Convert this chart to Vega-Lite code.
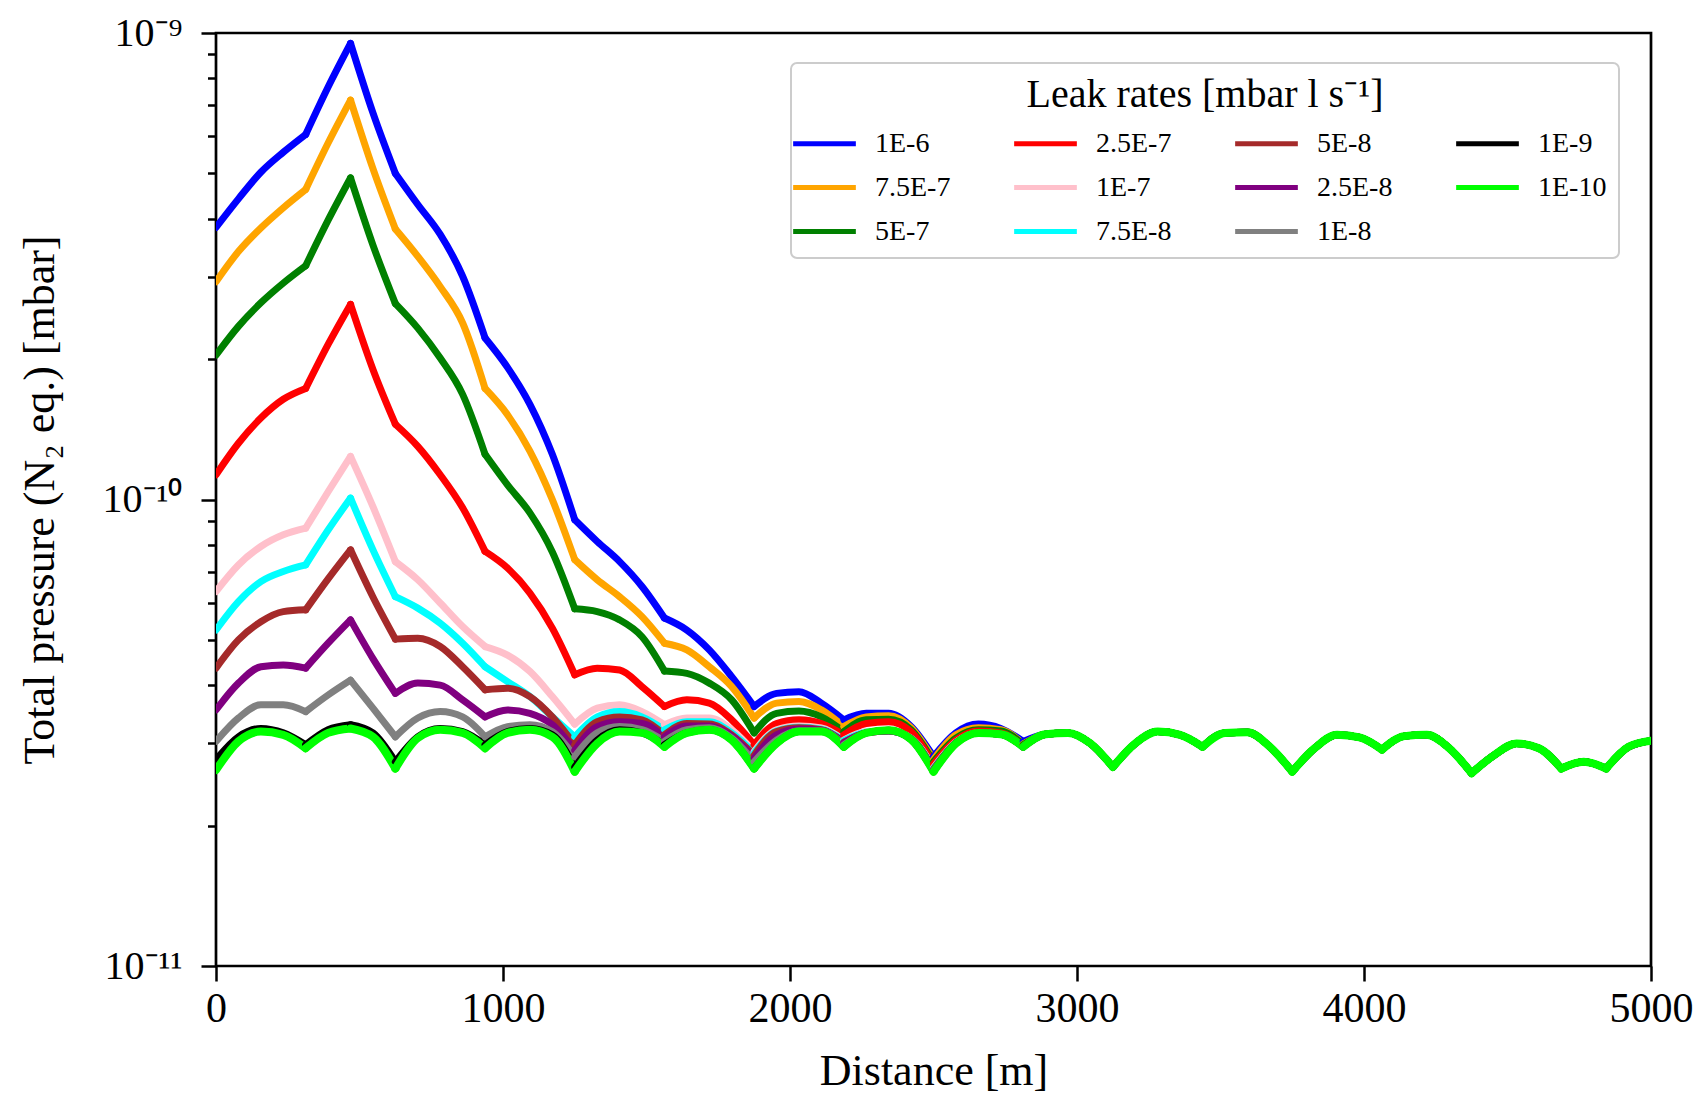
{
  "$schema": "https://vega.github.io/schema/vega-lite/v6.json",
  "width": 1435,
  "height": 933,
  "autosize": {"type": "none"},
  "padding": {"left": 216, "top": 33, "right": 50, "bottom": 129},
  "background": "white",
  "config": {
    "view": {"stroke": "black", "strokeWidth": 2.7},
    "font": "Liberation Serif",
    "axis": {
      "domain": false,
      "grid": false,
      "labelFont": "Liberation Serif",
      "titleFont": "Liberation Serif",
      "labelColor": "black",
      "titleColor": "black",
      "tickColor": "black",
      "tickWidth": 2.5,
      "titleFontWeight": "normal",
      "labelOverlap": false
    },
    "legend": {"strokeWidth": 2}
  },
  "data": {
    "values": [
      {"g":0,"x":0,"s1":3.83e-10,"s2":2.93e-10,"s3":2.04e-10,"s4":1.13e-10,"s5":6.35e-11,"s6":5.25e-11,"s7":4.35e-11,"s8":3.54e-11,"s9":3.03e-11,"s10":2.77e-11,"s11":2.63e-11},
      {"g":0,"x":78.125,"s1":4.41e-10,"s2":3.40e-10,"s3":2.35e-10,"s4":1.32e-10,"s5":7.24e-11,"s6":6.04e-11,"s7":5.00e-11,"s8":4.04e-11,"s9":3.40e-11,"s10":3.10e-11,"s11":3.03e-11},
      {"g":0,"x":156.25,"s1":5.03e-10,"s2":3.82e-10,"s3":2.64e-10,"s4":1.495e-10,"s5":7.93e-11,"s6":6.67e-11,"s7":5.47e-11,"s8":4.38e-11,"s9":3.63e-11,"s10":3.23e-11,"s11":3.18e-11},
      {"g":0,"x":234.375,"s1":5.55e-10,"s2":4.22e-10,"s3":2.91e-10,"s4":1.64e-10,"s5":8.40e-11,"s6":7.01e-11,"s7":5.75e-11,"s8":4.42e-11,"s9":3.63e-11,"s10":3.16e-11,"s11":3.13e-11},
      {"g":0,"x":312.5,"s1":6.06e-10,"s2":4.62e-10,"s3":3.17e-10,"s4":1.73e-10,"s5":8.68e-11,"s6":7.24e-11,"s7":5.80e-11,"s8":4.35e-11,"s9":3.51e-11,"s10":2.98e-11,"s11":2.93e-11},
      {"g":1,"x":312.5,"s1":6.06e-10,"s2":4.62e-10,"s3":3.17e-10,"s4":1.73e-10,"s5":8.68e-11,"s6":7.24e-11,"s7":5.80e-11,"s8":4.35e-11,"s9":3.51e-11,"s10":2.98e-11,"s11":2.93e-11},
      {"g":1,"x":390.625,"s1":7.66e-10,"s2":5.81e-10,"s3":3.97e-10,"s4":2.15e-10,"s5":1.039e-10,"s6":8.60e-11,"s7":6.76e-11,"s8":4.92e-11,"s9":3.81e-11,"s10":3.21e-11,"s11":3.16e-11},
      {"g":1,"x":468.75,"s1":9.50e-10,"s2":7.18e-10,"s3":4.89e-10,"s4":2.62e-10,"s5":1.237e-10,"s6":1.007e-10,"s7":7.80e-11,"s8":5.52e-11,"s9":4.10e-11,"s10":3.29e-11,"s11":3.23e-11},
      {"g":2,"x":468.75,"s1":9.50e-10,"s2":7.18e-10,"s3":4.89e-10,"s4":2.62e-10,"s5":1.237e-10,"s6":1.007e-10,"s7":7.80e-11,"s8":5.52e-11,"s9":4.10e-11,"s10":3.29e-11,"s11":3.23e-11},
      {"g":2,"x":546.875,"s1":6.74e-10,"s2":5.12e-10,"s3":3.51e-10,"s4":1.90e-10,"s5":9.65e-11,"s6":7.80e-11,"s7":6.18e-11,"s8":4.56e-11,"s9":3.57e-11,"s10":3.16e-11,"s11":3.10e-11},
      {"g":2,"x":625,"s1":5.00e-10,"s2":3.80e-10,"s3":2.63e-10,"s4":1.45e-10,"s5":7.36e-11,"s6":6.19e-11,"s7":5.02e-11,"s8":3.84e-11,"s9":3.10e-11,"s10":2.74e-11,"s11":2.65e-11},
      {"g":3,"x":625,"s1":5.00e-10,"s2":3.80e-10,"s3":2.63e-10,"s4":1.45e-10,"s5":7.36e-11,"s6":6.19e-11,"s7":5.02e-11,"s8":3.84e-11,"s9":3.10e-11,"s10":2.74e-11,"s11":2.65e-11},
      {"g":3,"x":703.125,"s1":4.29e-10,"s2":3.32e-10,"s3":2.33e-10,"s4":1.30e-10,"s5":6.73e-11,"s6":5.85e-11,"s7":5.04e-11,"s8":4.04e-11,"s9":3.40e-11,"s10":3.10e-11,"s11":3.08e-11},
      {"g":3,"x":781.25,"s1":3.70e-10,"s2":2.86e-10,"s3":2.01e-10,"s4":1.13e-10,"s5":6.00e-11,"s6":5.43e-11,"s7":4.84e-11,"s8":4.00e-11,"s9":3.51e-11,"s10":3.23e-11,"s11":3.21e-11},
      {"g":3,"x":859.375,"s1":3.01e-10,"s2":2.39e-10,"s3":1.68e-10,"s4":9.60e-11,"s5":5.34e-11,"s6":4.92e-11,"s7":4.38e-11,"s8":3.72e-11,"s9":3.42e-11,"s10":3.18e-11,"s11":3.16e-11},
      {"g":3,"x":937.5,"s1":2.22e-10,"s2":1.73e-10,"s3":1.25e-10,"s4":7.74e-11,"s5":4.84e-11,"s6":4.38e-11,"s7":3.91e-11,"s8":3.42e-11,"s9":3.10e-11,"s10":2.98e-11,"s11":2.93e-11},
      {"g":4,"x":937.5,"s1":2.22e-10,"s2":1.73e-10,"s3":1.25e-10,"s4":7.74e-11,"s5":4.84e-11,"s6":4.38e-11,"s7":3.91e-11,"s8":3.42e-11,"s9":3.10e-11,"s10":2.98e-11,"s11":2.93e-11},
      {"g":4,"x":1015.625,"s1":1.92e-10,"s2":1.52e-10,"s3":1.075e-10,"s4":7.13e-11,"s5":4.64e-11,"s6":4.07e-11,"s7":3.94e-11,"s8":3.54e-11,"s9":3.26e-11,"s10":3.18e-11,"s11":3.16e-11},
      {"g":4,"x":1093.75,"s1":1.60e-10,"s2":1.27e-10,"s3":9.36e-11,"s4":6.30e-11,"s5":4.28e-11,"s6":3.78e-11,"s7":3.78e-11,"s8":3.48e-11,"s9":3.29e-11,"s10":3.23e-11,"s11":3.21e-11},
      {"g":4,"x":1171.875,"s1":1.25e-10,"s2":9.99e-11,"s3":7.72e-11,"s4":5.30e-11,"s5":3.78e-11,"s6":3.42e-11,"s7":3.42e-11,"s8":3.29e-11,"s9":3.18e-11,"s10":3.13e-11,"s11":3.10e-11},
      {"g":4,"x":1250,"s1":9.05e-11,"s2":7.43e-11,"s3":5.83e-11,"s4":4.21e-11,"s5":3.30e-11,"s6":3.10e-11,"s7":2.98e-11,"s8":2.90e-11,"s9":2.81e-11,"s10":2.67e-11,"s11":2.61e-11},
      {"g":5,"x":1250,"s1":9.05e-11,"s2":7.43e-11,"s3":5.83e-11,"s4":4.21e-11,"s5":3.30e-11,"s6":3.10e-11,"s7":2.98e-11,"s8":2.90e-11,"s9":2.81e-11,"s10":2.67e-11,"s11":2.61e-11},
      {"g":5,"x":1328.125,"s1":8.13e-11,"s2":6.73e-11,"s3":5.75e-11,"s4":4.35e-11,"s5":3.57e-11,"s6":3.42e-11,"s7":3.34e-11,"s8":3.26e-11,"s9":3.16e-11,"s10":3.05e-11,"s11":3.00e-11},
      {"g":5,"x":1406.25,"s1":7.36e-11,"s2":6.19e-11,"s3":5.52e-11,"s4":4.31e-11,"s5":3.63e-11,"s6":3.51e-11,"s7":3.42e-11,"s8":3.34e-11,"s9":3.26e-11,"s10":3.21e-11,"s11":3.18e-11},
      {"g":5,"x":1484.375,"s1":6.51e-11,"s2":5.61e-11,"s3":5.08e-11,"s4":3.97e-11,"s5":3.51e-11,"s6":3.42e-11,"s7":3.37e-11,"s8":3.31e-11,"s9":3.21e-11,"s10":3.16e-11,"s11":3.16e-11},
      {"g":5,"x":1562.5,"s1":5.57e-11,"s2":4.92e-11,"s3":4.29e-11,"s4":3.60e-11,"s5":3.29e-11,"s6":3.21e-11,"s7":3.13e-11,"s8":3.10e-11,"s9":3.03e-11,"s10":2.98e-11,"s11":2.95e-11},
      {"g":6,"x":1562.5,"s1":5.57e-11,"s2":4.92e-11,"s3":4.29e-11,"s4":3.60e-11,"s5":3.29e-11,"s6":3.21e-11,"s7":3.13e-11,"s8":3.10e-11,"s9":3.03e-11,"s10":2.98e-11,"s11":2.95e-11},
      {"g":6,"x":1640.625,"s1":5.25e-11,"s2":4.76e-11,"s3":4.24e-11,"s4":3.72e-11,"s5":3.40e-11,"s6":3.34e-11,"s7":3.31e-11,"s8":3.27e-11,"s9":3.21e-11,"s10":3.16e-11,"s11":3.16e-11},
      {"g":6,"x":1718.75,"s1":4.76e-11,"s2":4.38e-11,"s3":4.04e-11,"s4":3.66e-11,"s5":3.40e-11,"s6":3.34e-11,"s7":3.30e-11,"s8":3.27e-11,"s9":3.24e-11,"s10":3.21e-11,"s11":3.21e-11},
      {"g":6,"x":1796.875,"s1":4.17e-11,"s2":3.97e-11,"s3":3.72e-11,"s4":3.37e-11,"s5":3.21e-11,"s6":3.16e-11,"s7":3.13e-11,"s8":3.11e-11,"s9":3.08e-11,"s10":3.05e-11,"s11":3.05e-11},
      {"g":6,"x":1875,"s1":3.60e-11,"s2":3.40e-11,"s3":3.16e-11,"s4":2.98e-11,"s5":2.88e-11,"s6":2.86e-11,"s7":2.83e-11,"s8":2.79e-11,"s9":2.74e-11,"s10":2.65e-11,"s11":2.65e-11},
      {"g":7,"x":1875,"s1":3.60e-11,"s2":3.40e-11,"s3":3.16e-11,"s4":2.98e-11,"s5":2.88e-11,"s6":2.86e-11,"s7":2.83e-11,"s8":2.79e-11,"s9":2.74e-11,"s10":2.65e-11,"s11":2.65e-11},
      {"g":7,"x":1953.125,"s1":3.84e-11,"s2":3.66e-11,"s3":3.48e-11,"s4":3.31e-11,"s5":3.21e-11,"s6":3.19e-11,"s7":3.18e-11,"s8":3.13e-11,"s9":3.05e-11,"s10":3.00e-11,"s11":3.00e-11},
      {"g":7,"x":2031.25,"s1":3.87e-11,"s2":3.69e-11,"s3":3.52e-11,"s4":3.37e-11,"s5":3.27e-11,"s6":3.25e-11,"s7":3.24e-11,"s8":3.22e-11,"s9":3.19e-11,"s10":3.18e-11,"s11":3.18e-11},
      {"g":7,"x":2109.375,"s1":3.66e-11,"s2":3.54e-11,"s3":3.42e-11,"s4":3.31e-11,"s5":3.24e-11,"s6":3.22e-11,"s7":3.21e-11,"s8":3.20e-11,"s9":3.19e-11,"s10":3.18e-11,"s11":3.18e-11},
      {"g":7,"x":2187.5,"s1":3.37e-11,"s2":3.26e-11,"s3":3.18e-11,"s4":3.13e-11,"s5":3.05e-11,"s6":3.04e-11,"s7":3.02e-11,"s8":3.01e-11,"s9":2.98e-11,"s10":2.95e-11,"s11":2.95e-11},
      {"g":8,"x":2187.5,"s1":3.37e-11,"s2":3.26e-11,"s3":3.18e-11,"s4":3.13e-11,"s5":3.05e-11,"s6":3.04e-11,"s7":3.02e-11,"s8":3.01e-11,"s9":2.98e-11,"s10":2.95e-11,"s11":2.95e-11},
      {"g":8,"x":2265.625,"s1":3.48e-11,"s2":3.42e-11,"s3":3.37e-11,"s4":3.31e-11,"s5":3.18e-11,"s6":3.17e-11,"s7":3.16e-11,"s8":3.16e-11,"s9":3.16e-11,"s10":3.16e-11,"s11":3.16e-11},
      {"g":8,"x":2343.75,"s1":3.48e-11,"s2":3.44e-11,"s3":3.38e-11,"s4":3.34e-11,"s5":3.19e-11,"s6":3.19e-11,"s7":3.19e-11,"s8":3.19e-11,"s9":3.20e-11,"s10":3.20e-11,"s11":3.20e-11},
      {"g":8,"x":2421.875,"s1":3.26e-11,"s2":3.24e-11,"s3":3.21e-11,"s4":3.18e-11,"s5":3.08e-11,"s6":3.07e-11,"s7":3.07e-11,"s8":3.07e-11,"s9":3.06e-11,"s10":3.06e-11,"s11":3.06e-11},
      {"g":8,"x":2500,"s1":2.81e-11,"s2":2.77e-11,"s3":2.74e-11,"s4":2.71e-11,"s5":2.66e-11,"s6":2.65e-11,"s7":2.64e-11,"s8":2.63e-11,"s9":2.62e-11,"s10":2.61e-11,"s11":2.61e-11},
      {"g":9,"x":2500,"s1":2.81e-11,"s2":2.77e-11,"s3":2.74e-11,"s4":2.71e-11,"s5":2.66e-11,"s6":2.65e-11,"s7":2.64e-11,"s8":2.63e-11,"s9":2.62e-11,"s10":2.61e-11,"s11":2.61e-11},
      {"g":9,"x":2578.125,"s1":3.16e-11,"s2":3.13e-11,"s3":3.08e-11,"s4":3.05e-11,"s5":3.02e-11,"s6":3.01e-11,"s7":3.01e-11,"s8":3.01e-11,"s9":3.00e-11,"s10":3.00e-11,"s11":3.00e-11},
      {"g":9,"x":2656.25,"s1":3.30e-11,"s2":3.24e-11,"s3":3.21e-11,"s4":3.19e-11,"s5":3.16e-11,"s6":3.16e-11,"s7":3.16e-11,"s8":3.16e-11,"s9":3.16e-11,"s10":3.16e-11,"s11":3.16e-11},
      {"g":9,"x":2734.375,"s1":3.23e-11,"s2":3.21e-11,"s3":3.19e-11,"s4":3.16e-11,"s5":3.14e-11,"s6":3.14e-11,"s7":3.14e-11,"s8":3.14e-11,"s9":3.14e-11,"s10":3.14e-11,"s11":3.14e-11},
      {"g":9,"x":2812.5,"s1":3.03e-11,"s2":2.99e-11,"s3":2.98e-11,"s4":2.96e-11,"s5":2.95e-11,"s6":2.95e-11,"s7":2.95e-11,"s8":2.95e-11,"s9":2.95e-11,"s10":2.95e-11,"s11":2.95e-11},
      {"g":10,"x":2812.5,"s1":3.03e-11,"s2":2.99e-11,"s3":2.98e-11,"s4":2.96e-11,"s5":2.95e-11,"s6":2.95e-11,"s7":2.95e-11,"s8":2.95e-11,"s9":2.95e-11,"s10":2.95e-11,"s11":2.95e-11},
      {"g":10,"x":2890.625,"s1":3.14e-11,"s2":3.14e-11,"s3":3.14e-11,"s4":3.14e-11,"s5":3.14e-11,"s6":3.14e-11,"s7":3.14e-11,"s8":3.14e-11,"s9":3.14e-11,"s10":3.14e-11,"s11":3.14e-11},
      {"g":10,"x":2968.75,"s1":3.16e-11,"s2":3.16e-11,"s3":3.16e-11,"s4":3.16e-11,"s5":3.16e-11,"s6":3.16e-11,"s7":3.16e-11,"s8":3.16e-11,"s9":3.16e-11,"s10":3.16e-11,"s11":3.16e-11},
      {"g":10,"x":3046.875,"s1":3.00e-11,"s2":3.00e-11,"s3":3.00e-11,"s4":3.00e-11,"s5":3.00e-11,"s6":3.00e-11,"s7":3.00e-11,"s8":3.00e-11,"s9":3.00e-11,"s10":3.00e-11,"s11":3.00e-11},
      {"g":10,"x":3125,"s1":2.67e-11,"s2":2.67e-11,"s3":2.67e-11,"s4":2.67e-11,"s5":2.67e-11,"s6":2.67e-11,"s7":2.67e-11,"s8":2.67e-11,"s9":2.67e-11,"s10":2.67e-11,"s11":2.67e-11},
      {"g":11,"x":3125,"s1":2.67e-11,"s2":2.67e-11,"s3":2.67e-11,"s4":2.67e-11,"s5":2.67e-11,"s6":2.67e-11,"s7":2.67e-11,"s8":2.67e-11,"s9":2.67e-11,"s10":2.67e-11,"s11":2.67e-11},
      {"g":11,"x":3203.125,"s1":3.00e-11,"s2":3.00e-11,"s3":3.00e-11,"s4":3.00e-11,"s5":3.00e-11,"s6":3.00e-11,"s7":3.00e-11,"s8":3.00e-11,"s9":3.00e-11,"s10":3.00e-11,"s11":3.00e-11},
      {"g":11,"x":3281.25,"s1":3.18e-11,"s2":3.18e-11,"s3":3.18e-11,"s4":3.18e-11,"s5":3.18e-11,"s6":3.18e-11,"s7":3.18e-11,"s8":3.18e-11,"s9":3.18e-11,"s10":3.18e-11,"s11":3.18e-11},
      {"g":11,"x":3359.375,"s1":3.13e-11,"s2":3.13e-11,"s3":3.13e-11,"s4":3.13e-11,"s5":3.13e-11,"s6":3.13e-11,"s7":3.13e-11,"s8":3.13e-11,"s9":3.13e-11,"s10":3.13e-11,"s11":3.13e-11},
      {"g":11,"x":3437.5,"s1":2.95e-11,"s2":2.95e-11,"s3":2.95e-11,"s4":2.95e-11,"s5":2.95e-11,"s6":2.95e-11,"s7":2.95e-11,"s8":2.95e-11,"s9":2.95e-11,"s10":2.95e-11,"s11":2.95e-11},
      {"g":12,"x":3437.5,"s1":2.95e-11,"s2":2.95e-11,"s3":2.95e-11,"s4":2.95e-11,"s5":2.95e-11,"s6":2.95e-11,"s7":2.95e-11,"s8":2.95e-11,"s9":2.95e-11,"s10":2.95e-11,"s11":2.95e-11},
      {"g":12,"x":3515.625,"s1":3.16e-11,"s2":3.16e-11,"s3":3.16e-11,"s4":3.16e-11,"s5":3.16e-11,"s6":3.16e-11,"s7":3.16e-11,"s8":3.16e-11,"s9":3.16e-11,"s10":3.16e-11,"s11":3.16e-11},
      {"g":12,"x":3593.75,"s1":3.17e-11,"s2":3.17e-11,"s3":3.17e-11,"s4":3.17e-11,"s5":3.17e-11,"s6":3.17e-11,"s7":3.17e-11,"s8":3.17e-11,"s9":3.17e-11,"s10":3.17e-11,"s11":3.17e-11},
      {"g":12,"x":3671.875,"s1":2.95e-11,"s2":2.95e-11,"s3":2.95e-11,"s4":2.95e-11,"s5":2.95e-11,"s6":2.95e-11,"s7":2.95e-11,"s8":2.95e-11,"s9":2.95e-11,"s10":2.95e-11,"s11":2.95e-11},
      {"g":12,"x":3750,"s1":2.61e-11,"s2":2.61e-11,"s3":2.61e-11,"s4":2.61e-11,"s5":2.61e-11,"s6":2.61e-11,"s7":2.61e-11,"s8":2.61e-11,"s9":2.61e-11,"s10":2.61e-11,"s11":2.61e-11},
      {"g":13,"x":3750,"s1":2.61e-11,"s2":2.61e-11,"s3":2.61e-11,"s4":2.61e-11,"s5":2.61e-11,"s6":2.61e-11,"s7":2.61e-11,"s8":2.61e-11,"s9":2.61e-11,"s10":2.61e-11,"s11":2.61e-11},
      {"g":13,"x":3828.125,"s1":2.93e-11,"s2":2.93e-11,"s3":2.93e-11,"s4":2.93e-11,"s5":2.93e-11,"s6":2.93e-11,"s7":2.93e-11,"s8":2.93e-11,"s9":2.93e-11,"s10":2.93e-11,"s11":2.93e-11},
      {"g":13,"x":3906.25,"s1":3.13e-11,"s2":3.13e-11,"s3":3.13e-11,"s4":3.13e-11,"s5":3.13e-11,"s6":3.13e-11,"s7":3.13e-11,"s8":3.13e-11,"s9":3.13e-11,"s10":3.13e-11,"s11":3.13e-11},
      {"g":13,"x":3984.375,"s1":3.09e-11,"s2":3.09e-11,"s3":3.09e-11,"s4":3.09e-11,"s5":3.09e-11,"s6":3.09e-11,"s7":3.09e-11,"s8":3.09e-11,"s9":3.09e-11,"s10":3.09e-11,"s11":3.09e-11},
      {"g":13,"x":4062.5,"s1":2.91e-11,"s2":2.91e-11,"s3":2.91e-11,"s4":2.91e-11,"s5":2.91e-11,"s6":2.91e-11,"s7":2.91e-11,"s8":2.91e-11,"s9":2.91e-11,"s10":2.91e-11,"s11":2.91e-11},
      {"g":14,"x":4062.5,"s1":2.91e-11,"s2":2.91e-11,"s3":2.91e-11,"s4":2.91e-11,"s5":2.91e-11,"s6":2.91e-11,"s7":2.91e-11,"s8":2.91e-11,"s9":2.91e-11,"s10":2.91e-11,"s11":2.91e-11},
      {"g":14,"x":4140.625,"s1":3.11e-11,"s2":3.11e-11,"s3":3.11e-11,"s4":3.11e-11,"s5":3.11e-11,"s6":3.11e-11,"s7":3.11e-11,"s8":3.11e-11,"s9":3.11e-11,"s10":3.11e-11,"s11":3.11e-11},
      {"g":14,"x":4218.75,"s1":3.13e-11,"s2":3.13e-11,"s3":3.13e-11,"s4":3.13e-11,"s5":3.13e-11,"s6":3.13e-11,"s7":3.13e-11,"s8":3.13e-11,"s9":3.13e-11,"s10":3.13e-11,"s11":3.13e-11},
      {"g":14,"x":4296.875,"s1":2.93e-11,"s2":2.93e-11,"s3":2.93e-11,"s4":2.93e-11,"s5":2.93e-11,"s6":2.93e-11,"s7":2.93e-11,"s8":2.93e-11,"s9":2.93e-11,"s10":2.93e-11,"s11":2.93e-11},
      {"g":14,"x":4375,"s1":2.59e-11,"s2":2.59e-11,"s3":2.59e-11,"s4":2.59e-11,"s5":2.59e-11,"s6":2.59e-11,"s7":2.59e-11,"s8":2.59e-11,"s9":2.59e-11,"s10":2.59e-11,"s11":2.59e-11},
      {"g":15,"x":4375,"s1":2.59e-11,"s2":2.59e-11,"s3":2.59e-11,"s4":2.59e-11,"s5":2.59e-11,"s6":2.59e-11,"s7":2.59e-11,"s8":2.59e-11,"s9":2.59e-11,"s10":2.59e-11,"s11":2.59e-11},
      {"g":15,"x":4453.125,"s1":2.83e-11,"s2":2.83e-11,"s3":2.83e-11,"s4":2.83e-11,"s5":2.83e-11,"s6":2.83e-11,"s7":2.83e-11,"s8":2.83e-11,"s9":2.83e-11,"s10":2.83e-11,"s11":2.83e-11},
      {"g":15,"x":4531.25,"s1":3.00e-11,"s2":3.00e-11,"s3":3.00e-11,"s4":3.00e-11,"s5":3.00e-11,"s6":3.00e-11,"s7":3.00e-11,"s8":3.00e-11,"s9":3.00e-11,"s10":3.00e-11,"s11":3.00e-11},
      {"g":15,"x":4609.375,"s1":2.93e-11,"s2":2.93e-11,"s3":2.93e-11,"s4":2.93e-11,"s5":2.93e-11,"s6":2.93e-11,"s7":2.93e-11,"s8":2.93e-11,"s9":2.93e-11,"s10":2.93e-11,"s11":2.93e-11},
      {"g":15,"x":4687.5,"s1":2.65e-11,"s2":2.65e-11,"s3":2.65e-11,"s4":2.65e-11,"s5":2.65e-11,"s6":2.65e-11,"s7":2.65e-11,"s8":2.65e-11,"s9":2.65e-11,"s10":2.65e-11,"s11":2.65e-11},
      {"g":16,"x":4687.5,"s1":2.65e-11,"s2":2.65e-11,"s3":2.65e-11,"s4":2.65e-11,"s5":2.65e-11,"s6":2.65e-11,"s7":2.65e-11,"s8":2.65e-11,"s9":2.65e-11,"s10":2.65e-11,"s11":2.65e-11},
      {"g":16,"x":4765.625,"s1":2.74e-11,"s2":2.74e-11,"s3":2.74e-11,"s4":2.74e-11,"s5":2.74e-11,"s6":2.74e-11,"s7":2.74e-11,"s8":2.74e-11,"s9":2.74e-11,"s10":2.74e-11,"s11":2.74e-11},
      {"g":16,"x":4843.75,"s1":2.65e-11,"s2":2.65e-11,"s3":2.65e-11,"s4":2.65e-11,"s5":2.65e-11,"s6":2.65e-11,"s7":2.65e-11,"s8":2.65e-11,"s9":2.65e-11,"s10":2.65e-11,"s11":2.65e-11},
      {"g":17,"x":4843.75,"s1":2.65e-11,"s2":2.65e-11,"s3":2.65e-11,"s4":2.65e-11,"s5":2.65e-11,"s6":2.65e-11,"s7":2.65e-11,"s8":2.65e-11,"s9":2.65e-11,"s10":2.65e-11,"s11":2.65e-11},
      {"g":17,"x":4921.875,"s1":2.95e-11,"s2":2.95e-11,"s3":2.95e-11,"s4":2.95e-11,"s5":2.95e-11,"s6":2.95e-11,"s7":2.95e-11,"s8":2.95e-11,"s9":2.95e-11,"s10":2.95e-11,"s11":2.95e-11},
      {"g":17,"x":5000,"s1":3.04e-11,"s2":3.04e-11,"s3":3.04e-11,"s4":3.04e-11,"s5":3.04e-11,"s6":3.04e-11,"s7":3.04e-11,"s8":3.04e-11,"s9":3.04e-11,"s10":3.04e-11,"s11":3.04e-11}
    ]
  },
  "transform": [
    {"fold": ["s1","s2","s3","s4","s5","s6","s7","s8","s9","s10","s11"], "as": ["key","p"]}
  ],
  "mark": {"type": "line", "interpolate": "monotone", "strokeJoin": "round", "strokeCap": "round", "clip": true},
  "encoding": {
    "x": {
      "field": "x",
      "type": "quantitative",
      "scale": {"domain": [0, 5000], "nice": false, "zero": false},
      "axis": {
        "values": [0, 1000, 2000, 3000, 4000, 5000],
        "format": "d",
        "title": "Distance [m]",
        "labelFontSize": 42,
        "labelFlush": false,
        "tickSize": 15,
        "labelPadding": 7,
        "titleFontSize": 44,
        "titleX": 717.5,
        "titleY": 118,
        "titleBaseline": "alphabetic",
        "titleAlign": "center"
      }
    },
    "y": {
      "field": "p",
      "type": "quantitative",
      "scale": {"type": "log", "domain": [1e-11, 1e-9], "nice": false},
      "axis": {
        "values": [1e-11,2e-11,3e-11,4e-11,5e-11,6e-11,7e-11,8e-11,9e-11,1e-10,2e-10,3e-10,4e-10,5e-10,6e-10,7e-10,8e-10,9e-10,1e-9],
        "labelExpr": "datum.value == 1e-9 ? '10⁻⁹' : datum.value == 1e-10 ? '10⁻¹⁰' : datum.value == 1e-11 ? '10⁻¹¹' : ''",
        "tickSize": {"condition": {"test": "datum.value == 1e-9 || datum.value == 1e-10 || datum.value == 1e-11", "value": 15}, "value": 8.5},
        "labelFontSize": 40,
        "labelPadding": 19,
        "title": "Total pressure (N₂ eq.) [mbar]",
        "titleFontSize": 44,
        "titleX": -163,
        "titleY": 466.5,
        "titleBaseline": "alphabetic",
        "titleAlign": "center",
        "titleAngle": -90
      }
    },
    "detail": {"field": "g", "type": "nominal"},
    "color": {
      "field": "key",
      "type": "nominal",
      "scale": {
        "domain": ["s1","s2","s3","s4","s5","s6","s7","s8","s9","s10","s11"],
        "range": ["#0000ff","#ffa500","#008000","#ff0000","#ffc0cb","#00ffff","#a52a2a","#800080","#808080","#000000","#00ff00"]
      },
      "legend": {
        "title": "Leak rates [mbar l s⁻¹]",
        "orient": "none",
        "legendX": 575,
        "legendY": 30,
        "columns": 4,
        "symbolType": "M-1.65,0H1.65",
        "symbolSize": 1444,
        "symbolStrokeWidth": 5,
        "labelExpr": "{'s1':'1E-6','s2':'7.5E-7','s3':'5E-7','s4':'2.5E-7','s5':'1E-7','s6':'7.5E-8','s7':'5E-8','s8':'2.5E-8','s9':'1E-8','s10':'1E-9','s11':'1E-10'}[datum.value]",
        "labelFont": "Liberation Serif",
        "labelFontSize": 28,
        "labelColor": "black",
        "labelOffset": 29,
        "labelLimit": 400,
        "titleFont": "Liberation Serif",
        "titleFontSize": 40,
        "titleFontWeight": "normal",
        "titleColor": "black",
        "titleAnchor": "middle",
        "titleAlign": "center",
        "titlePadding": 7,
        "titleLimit": 900,
        "rowPadding": 8,
        "columnPadding": 53,
        "padding": 12,
        "fillColor": "white",
        "strokeColor": "#cccccc",
        "cornerRadius": 6
      }
    },
    "strokeWidth": {"condition": {"test": "datum.key === 's11'", "value": 8}, "value": 7}
  }
}
